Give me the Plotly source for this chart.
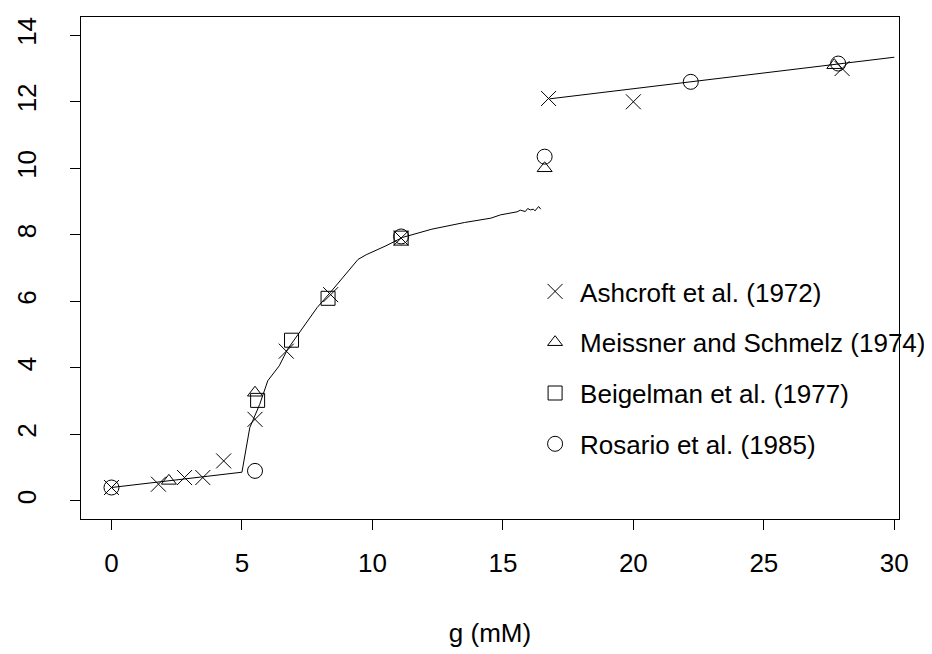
import plotly.graph_objects as go

# ---- data ----
ashcroft_x = [0.0, 1.8, 2.8, 3.5, 4.3, 5.5, 6.7, 8.4, 11.1, 16.75, 20.0, 28.0]
ashcroft_y = [0.4, 0.5, 0.7, 0.7, 1.2, 2.45, 4.5, 6.2, 7.9, 12.1, 12.0, 13.0]

meissner_x = [2.2, 5.5, 16.6, 27.7]
meissner_y = [0.6, 3.25, 10.0, 13.1]

beigelman_x = [5.6, 6.9, 8.3, 11.1]
beigelman_y = [3.02, 4.83, 6.09, 7.9]

rosario_x = [0.0, 5.5, 11.1, 16.6, 22.2, 27.85]
rosario_y = [0.4, 0.9, 7.95, 10.35, 12.6, 13.15]

model_low_x = [0.0, 5.0, 5.3, 5.68, 5.99, 6.43, 6.75, 7.38, 7.88, 8.38, 9.01, 9.45,
               9.76, 10.52, 11.15, 12.28, 13.53, 14.54, 14.91, 15.54, 15.67, 15.86,
               15.95, 16.05, 16.17, 16.23, 16.37, 16.45]
model_low_y = [0.4, 0.86, 2.2, 2.9, 3.61, 4.06, 4.56, 5.26, 5.81, 6.26, 6.86, 7.26,
               7.40, 7.67, 7.92, 8.17, 8.37, 8.50, 8.60, 8.69, 8.74, 8.70,
               8.79, 8.75, 8.77, 8.72, 8.85, 8.77]

model_high_x = [16.8, 30.0]
model_high_y = [12.09, 13.34]

x_ticks = [0, 5, 10, 15, 20, 25, 30]
y_ticks = [0, 2, 4, 6, 8, 10, 12, 14]

series_names = ["Ashcroft et al. (1972)", "Meissner and Schmelz (1974)",
                "Beigelman et al. (1977)", "Rosario et al. (1985)"]

FONT = "Liberation Sans, Arial, Helvetica, sans-serif"

fig = go.Figure()

fig.add_trace(go.Scatter(x=model_low_x, y=model_low_y, mode="lines",
                         line=dict(color="black", width=1), showlegend=False,
                         hoverinfo="skip"))
fig.add_trace(go.Scatter(x=model_high_x, y=model_high_y, mode="lines",
                         line=dict(color="black", width=1), showlegend=False,
                         hoverinfo="skip"))

specs = [
    (ashcroft_x, ashcroft_y, "x-thin-open", 15),
    (meissner_x, meissner_y, "triangle-up-open", 13),
    (beigelman_x, beigelman_y, "square-open", 14),
    (rosario_x, rosario_y, "circle-open", 15),
]
for i, ((xs, ys, sym, sz), name) in enumerate(zip(specs, series_names)):
    fig.add_trace(go.Scatter(
        x=xs, y=ys, mode="markers", name=name, legendgroup=f"g{i}",
        marker=dict(symbol=sym, size=sz, color="black",
                    line=dict(color="black", width=1)),
    ))

axis_common = dict(
    showline=True, mirror=True, linecolor="black", linewidth=1,
    showgrid=False, zeroline=False, ticks="outside", ticklen=10,
    tickwidth=1, tickcolor="black", automargin=False,
    tickfont=dict(family=FONT, size=26, color="black"),
)

fig.update_layout(
    width=932, height=654,
    margin=dict(l=73, r=27, t=9, b=143),
    paper_bgcolor="white", plot_bgcolor="white",
    font=dict(family=FONT, size=26, color="black"),
    xaxis=dict(range=[-1.168, 30.18], tickvals=x_ticks,
               ticktext=[str(v) for v in x_ticks], ticklabelstandoff=11,
               title=dict(text="g (mM)", font=dict(family=FONT, size=26),
                          standoff=46),
               **axis_common),
    yaxis=dict(range=[-0.547, 14.55], tickvals=y_ticks,
               ticktext=[str(v) for v in y_ticks], tickangle=-90,
               ticklabelstandoff=24, **axis_common),
    legend=dict(x=0.549, xanchor="left", y=0.50, yanchor="top",
                bgcolor="rgba(0,0,0,0)", borderwidth=0,
                font=dict(family=FONT, size=26, color="black"),
                traceorder="grouped", tracegroupgap=14, itemwidth=40),
    showlegend=True,
)

fig.write_html("out.html")
